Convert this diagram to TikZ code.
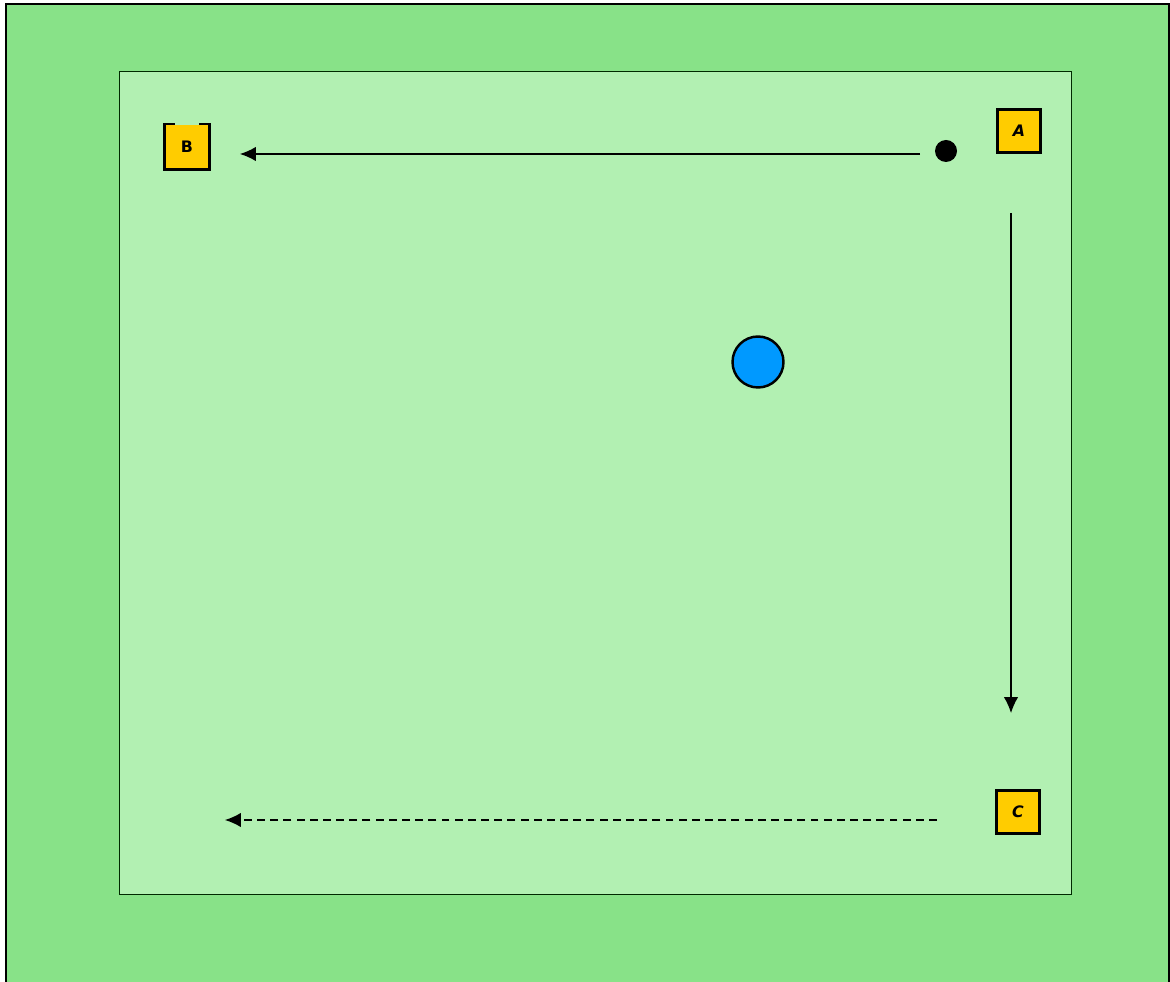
\documentclass[tikz,border=0pt]{standalone}
\usepackage{fontspec}
\setsansfont{DejaVu Sans}
\usetikzlibrary{arrows.meta,positioning}
\definecolor{pitch out}{HTML}{88E288}
\definecolor{pitch in}{HTML}{B2F0B2}
\definecolor{cone}{HTML}{FFCC00}
\definecolor{ball}{HTML}{0099FF}
\tikzstyle{conebox} = [fill=cone,draw=black,line width=1.3pt,minimum size=0.86cm,inner sep=0pt,font=\sffamily\bfseries\small]
\tikzstyle{run} = [line width=0.7pt,-{Latex[length=3.2mm,width=2.9mm]}]

\begin{document}
\begin{tikzpicture}[x=0.02cm,y=-0.02cm]
		\useasboundingbox (0,0) rectangle (1170,982);
		\path[fill=pitch out,draw=black,line width=1.4pt] (6,990) -- (6,4) -- (1169,4) -- (1169,990);
		\path[fill=pitch in,draw=black!60!green!40!black,line width=0.4pt] (119,71) rectangle (1071,894);
		\node[conebox] (A) at (1019,131) {\textit{A}};
		\node[conebox,draw=none] (B) at (187,147) {B};
		\draw[line width=1.3pt] ([xshift=6]B.north west) -- (B.north west) -- (B.south west) -- (B.south east) -- (B.north east) -- ([xshift=-6]B.north east);
		\node[conebox] (C) at (1018,812) {\textit{C}};
		\node[circle,fill=black,inner sep=0pt,minimum size=0.44cm] (p) at (946,151) {};
		\node[circle,fill=ball,draw=black,line width=1.4pt,minimum size=1.02cm,inner sep=0pt] (ball) at (758,362) {};
		\coordinate (b1) at (920,154);
		\coordinate (b2) at (240,154);
		\coordinate (c1) at (1011,213);
		\coordinate (c2) at (1011,713);
		\coordinate (d1) at (937,820);
		\coordinate (d2) at (225,820);
		\draw[run] (b1) to (b2);
		\draw[run] (c1) to (c2);
		\draw[run,dashed,dash pattern=on 4.5pt off 3pt] (d1) to (d2);
	\end{tikzpicture}
\end{document}
